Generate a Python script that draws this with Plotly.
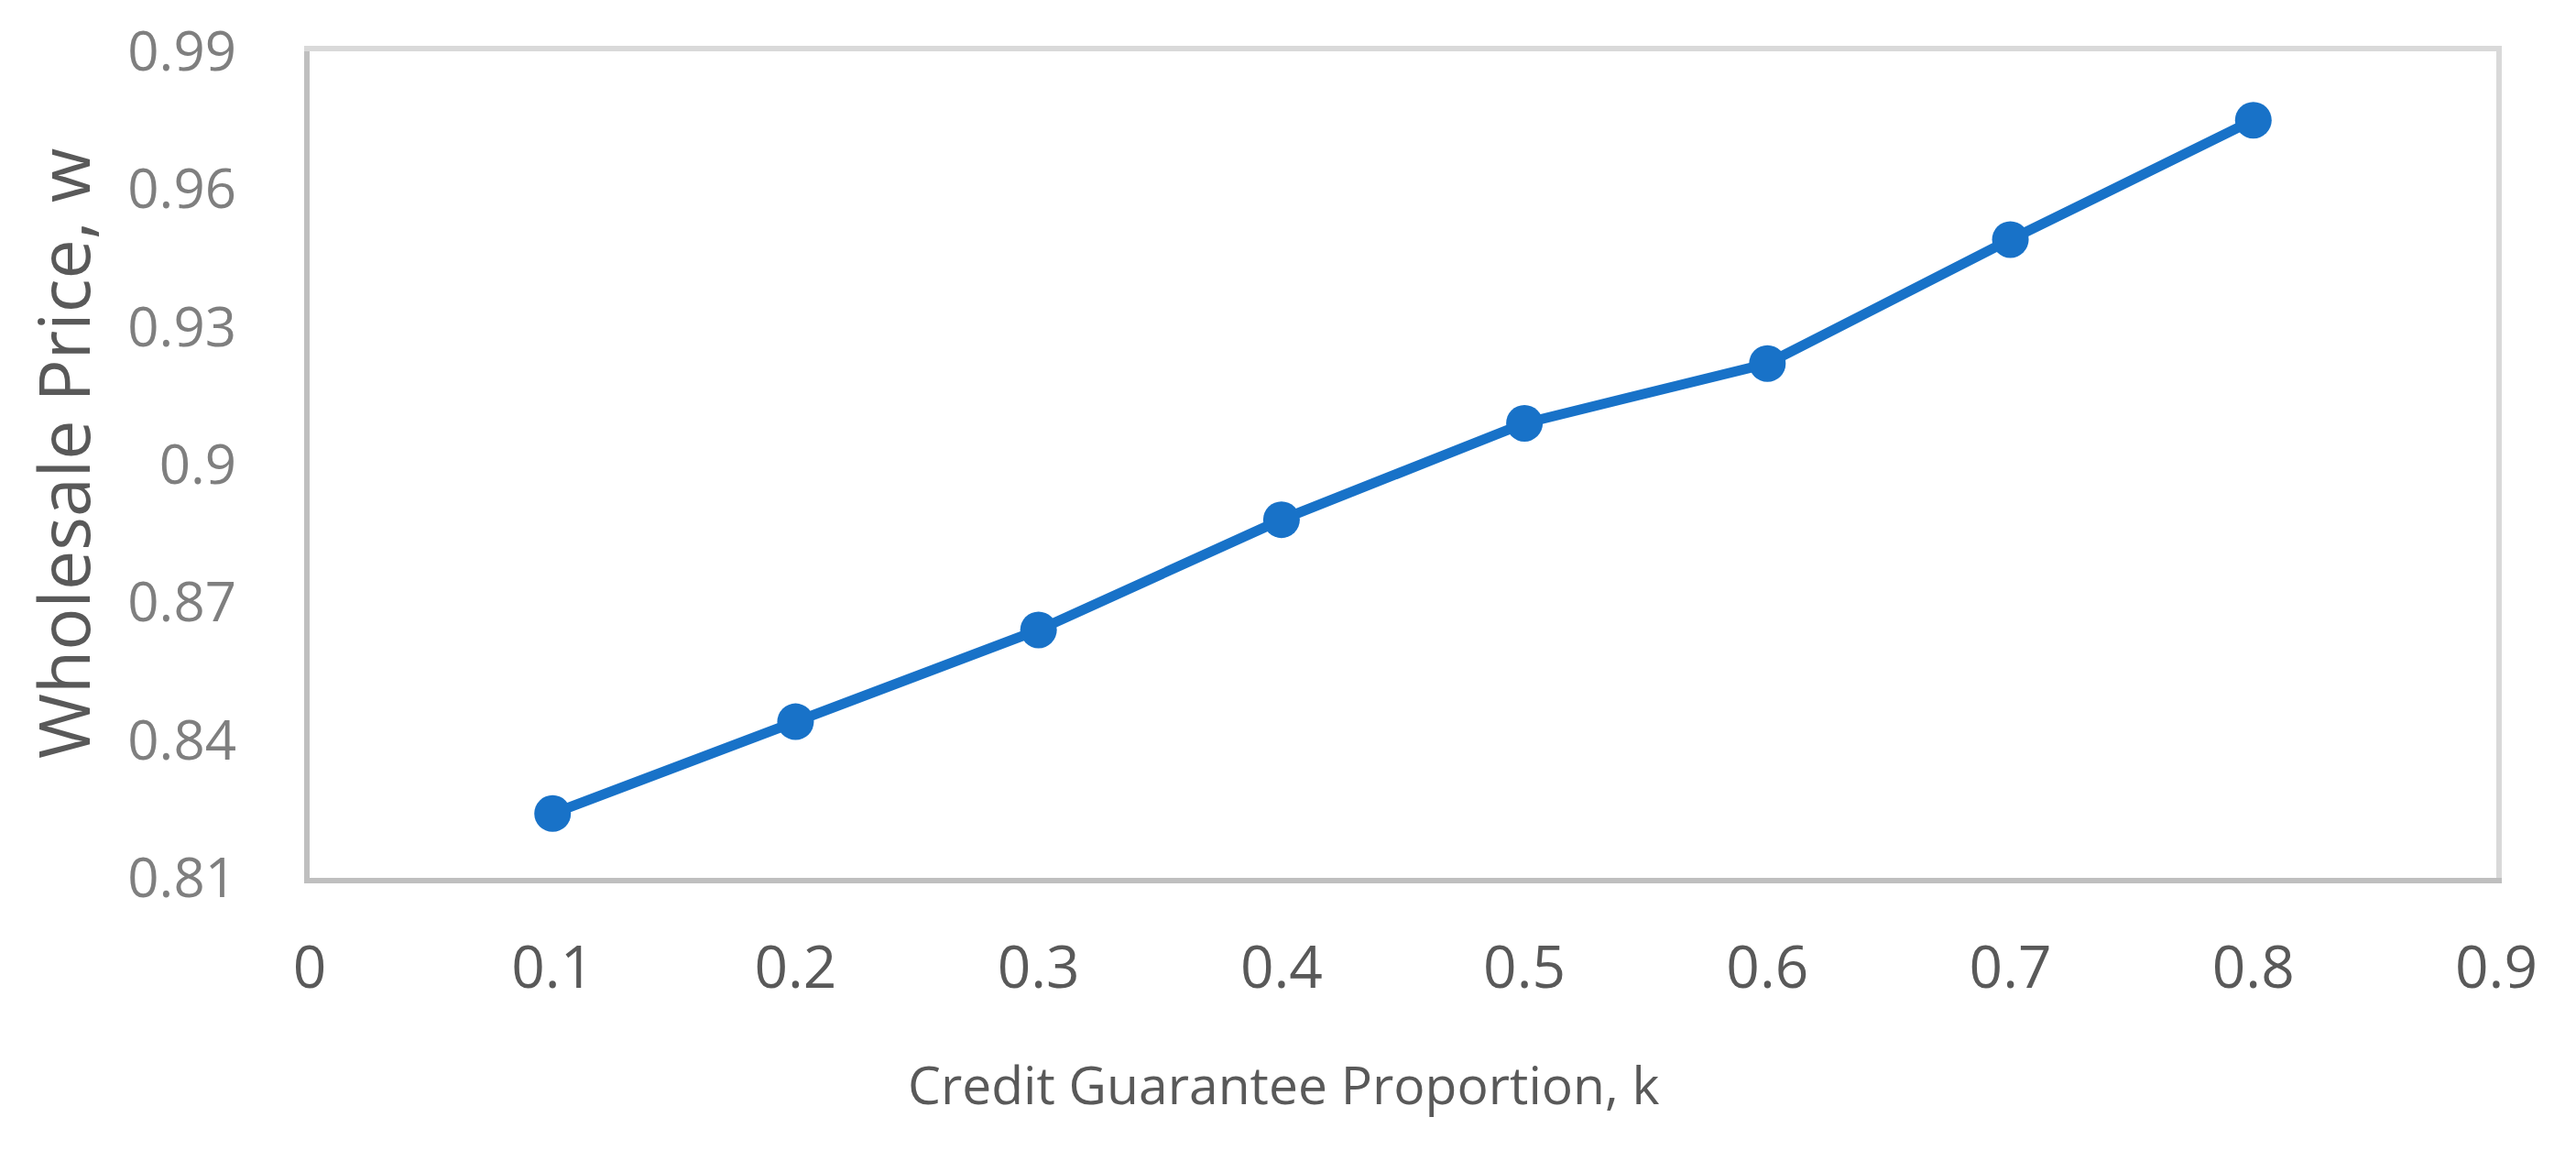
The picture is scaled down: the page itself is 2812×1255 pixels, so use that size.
import plotly.graph_objects as go

# Data
k_values = [0.1, 0.2, 0.3, 0.4, 0.5, 0.6, 0.7, 0.8]
wholesale_price = [0.824, 0.844, 0.864, 0.888, 0.909, 0.922, 0.949, 0.975]

x_tick_vals = [0, 0.1, 0.2, 0.3, 0.4, 0.5, 0.6, 0.7, 0.8, 0.9]
x_tick_text = ["0", "0.1", "0.2", "0.3", "0.4", "0.5", "0.6", "0.7", "0.8", "0.9"]
y_tick_vals = [0.81, 0.84, 0.87, 0.90, 0.93, 0.96, 0.99]
y_tick_text = ["0.81", "0.84", "0.87", "0.9", "0.93", "0.96", "0.99"]

x_title = "Credit Guarantee Proportion, k"
y_title = "Wholesale Price, w"

LINE_BLUE = "#1872C8"
FONT = "Open Sans"

fig = go.Figure()
fig.add_trace(go.Scatter(
    x=k_values, y=wholesale_price, mode="lines+markers",
    line=dict(color=LINE_BLUE, width=11),
    marker=dict(color=LINE_BLUE, size=40),
    showlegend=False,
))
# invisible trace to anchor the frame axes (top / right)
fig.add_trace(go.Scatter(
    x=k_values, y=wholesale_price, xaxis="x2", yaxis="y2",
    mode="lines", line=dict(width=0), opacity=0,
    hoverinfo="skip", showlegend=False,
))

fig.update_layout(
    width=2812, height=1255,
    margin=dict(l=338, r=87, t=56, b=297),
    paper_bgcolor="white", plot_bgcolor="white",
    font=dict(family=FONT),
    xaxis=dict(
        range=[0, 0.9], tickvals=x_tick_vals, ticktext=x_tick_text,
        showgrid=False, zeroline=False,
        showline=True, linecolor="#BFBFBF", linewidth=6,
        ticks="", ticklabelstandoff=37,
        tickfont=dict(family=FONT, size=64, color="#595959"),
    ),
    yaxis=dict(
        range=[0.81, 0.99], tickvals=y_tick_vals, ticktext=y_tick_text,
        showgrid=False, zeroline=False,
        showline=True, linecolor="#BFBFBF", linewidth=6,
        ticks="", ticklabelstandoff=62,
        tickfont=dict(family=FONT, size=60, color="#7F7F7F"),
    ),
    xaxis2=dict(
        overlaying="x", side="top", range=[0, 0.9],
        showline=True, linecolor="#D9D9D9", linewidth=6,
        showticklabels=False, showgrid=False, zeroline=False, ticks="",
    ),
    yaxis2=dict(
        overlaying="y", side="right", range=[0.81, 0.99],
        showline=True, linecolor="#D9D9D9", linewidth=6,
        showticklabels=False, showgrid=False, zeroline=False, ticks="",
    ),
    annotations=[
        dict(text=x_title, xref="paper", yref="paper", x=0.4457, y=-0.2494,
             xanchor="center", yanchor="middle", showarrow=False,
             font=dict(family=FONT, size=57, color="#595959")),
        dict(text=y_title, xref="paper", yref="paper", x=-0.1131, y=0.5133,
             xanchor="center", yanchor="middle", showarrow=False, textangle=-90,
             font=dict(family=FONT, size=77, color="#595959")),
    ],
)

fig.write_html(
    "out.html",
    config={"displayModeBar": False},
    post_script="document.body.style.margin='0';document.body.style.overflow='hidden';",
)
